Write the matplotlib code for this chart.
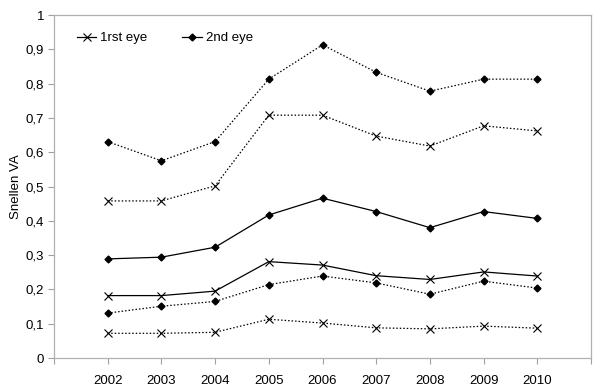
import matplotlib
matplotlib.use("Agg")
import matplotlib.pyplot as plt
from matplotlib.lines import Line2D

plt.rcParams['font.family'] = ['Liberation Sans', 'DejaVu Sans']

years = [2002, 2003, 2004, 2005, 2006, 2007, 2008, 2009, 2010]
eye2_upper = [0.631, 0.575, 0.631, 0.813, 0.913, 0.833, 0.778, 0.813, 0.813]
eye1_upper = [0.458, 0.458, 0.502, 0.708, 0.708, 0.647, 0.618, 0.677, 0.662]
eye2_median = [0.289, 0.294, 0.323, 0.417, 0.466, 0.427, 0.380, 0.427, 0.407]
eye1_median = [0.182, 0.182, 0.195, 0.281, 0.271, 0.240, 0.229, 0.251, 0.239]
eye2_lower = [0.131, 0.151, 0.165, 0.214, 0.239, 0.219, 0.186, 0.224, 0.204]
eye1_lower = [0.072, 0.072, 0.075, 0.113, 0.102, 0.088, 0.085, 0.093, 0.087]
yticks = [0, 0.1, 0.2, 0.3, 0.4, 0.5, 0.6, 0.7, 0.8, 0.9, 1.0]
ytick_labels = ['0', '0,1', '0,2', '0,3', '0,4', '0,5', '0,6', '0,7', '0,8', '0,9', '1']

fig = plt.figure(figsize=(6, 3.9), dpi=100)
ax = fig.add_axes([0.09, 0.082, 0.895, 0.8795])

dot = (0, (1.2, 1.6))
kx = dict(marker='x', markersize=5.5, markeredgewidth=0.8, color='black', linewidth=0.9)
kd = dict(marker='D', markersize=3.5, color='black', linewidth=0.9)

ax.plot(years, eye2_upper, linestyle=dot, **kd)
ax.plot(years, eye1_upper, linestyle=dot, **kx)
ax.plot(years, eye2_median, linestyle='-', **kd)
ax.plot(years, eye1_median, linestyle='-', **kx)
ax.plot(years, eye2_lower, linestyle=dot, **kd)
ax.plot(years, eye1_lower, linestyle=dot, **kx)

ax.set_xlim(2001, 2011)
ax.set_ylim(0, 1)
ax.set_xticks(list(range(2001, 2012)))
ax.set_xticklabels([''] + [str(y) for y in years] + [''])
ax.set_yticks(yticks)
ax.set_yticklabels(ytick_labels)
ax.tick_params(axis='both', direction='out', length=4, width=0.8, color='#a0a0a0',
               labelsize=9.5, labelcolor='black', pad=3)
ax.tick_params(axis='x', pad=8)
for s in ax.spines.values():
    s.set_color('#b0b0b0')
    s.set_linewidth(0.9)
ax.set_ylabel('Snellen VA', fontsize=9.5, labelpad=3)

handles = [Line2D([], [], linestyle='-', **kx), Line2D([], [], linestyle='-', **kd)]
ax.legend(handles, ['1rst eye', '2nd eye'], loc='upper left', bbox_to_anchor=(0.02, 0.985),
          ncol=2, frameon=False, fontsize=9.5, handlelength=1.5, handletextpad=0.3,
          columnspacing=2.6)

fig.savefig('out.png', dpi=100)
